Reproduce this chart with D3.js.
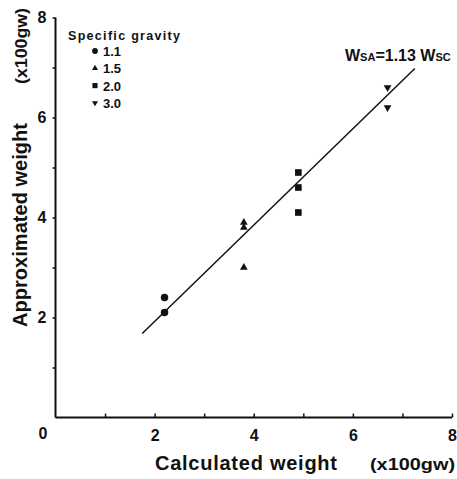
<!DOCTYPE html>
<html><head><meta charset="utf-8">
<script src="https://cdn.jsdelivr.net/npm/d3@7"></script>
<style>body{margin:0;background:#fff}svg{display:block}text{font-family:"Liberation Sans",Arial,sans-serif;font-weight:bold;fill:#111}</style>
</head><body>
<script>
// Data
const gravities = ["1.1", "1.5", "2.0", "3.0"];
const calcWeight = [2.2, 2.2, 3.8, 3.8, 3.8, 4.9, 4.9, 4.9, 6.7, 6.7];
const approxWeight = [2.4, 2.1, 3.9, 3.8, 3.0, 4.9, 4.6, 4.1, 6.6, 6.2];
const pointGravity = ["1.1", "1.1", "1.5", "1.5", "1.5", "2.0", "2.0", "2.0", "3.0", "3.0"];
const fitX = [1.75, 7.25];
const fitY = [1.68, 6.98];
const tickValues = [1, 2, 3, 4, 5, 6, 7, 8];
const tickLabels = ["", "2", "", "4", "", "6", "", "8"];

const W = 457, H = 479;
const svg = d3.select("body").append("svg").attr("width", W).attr("height", H);
const x = d3.scaleLinear().domain([0, 8]).range([55.5, 452]);
const y = d3.scaleLinear().domain([0, 8]).range([417.5, 17.5]);

// axes
const xAxis = d3.axisBottom(x).tickValues(tickValues).tickSize(-4).tickPadding(10)
  .tickFormat((d, i) => tickLabels[i]);
const gx = svg.append("g").attr("transform", `translate(0,${y(0)})`).call(xAxis);
gx.select(".domain").attr("stroke", "#111").attr("stroke-width", 2).attr("d", `M${x(0)},0H${x(8)}`);
gx.selectAll(".tick line").attr("stroke", "#111").attr("stroke-width", 1.5);
gx.selectAll(".tick text").attr("font-size", 16).attr("font-family", "Liberation Sans, Arial, sans-serif").attr("font-weight", "bold").attr("fill", "#111").attr("dy", "0.85em");

const yAxis = d3.axisLeft(y).tickValues(tickValues).tickSize(3).tickPadding(6)
  .tickFormat((d, i) => tickLabels[i]);
const gy = svg.append("g").attr("transform", `translate(${x(0)},0)`).call(yAxis);
gy.select(".domain").attr("stroke", "#111").attr("stroke-width", 2).attr("d", `M0,${y(8)}V${y(0)}`);
gy.selectAll(".tick line").attr("stroke", "#111").attr("stroke-width", 1.5);
gy.selectAll(".tick text").attr("font-size", 16).attr("font-family", "Liberation Sans, Arial, sans-serif").attr("font-weight", "bold").attr("fill", "#111");

// corner zero
svg.append("text").attr("x", 43).attr("y", 439).attr("text-anchor", "middle").attr("font-size", 16).text("0");

// axis titles
svg.append("text").attr("x", 155).attr("y", 470).attr("font-size", 20)
  .attr("textLength", 182).attr("lengthAdjust", "spacing").text("Calculated weight");
svg.append("text").attr("x", 370).attr("y", 470).attr("font-size", 17)
  .attr("textLength", 85).attr("lengthAdjust", "spacingAndGlyphs").text("(x100gw)");

const yt = svg.append("g").attr("transform", "translate(27,0) rotate(-90)");
yt.append("text").attr("x", -327).attr("y", 0).attr("font-size", 20)
  .attr("textLength", 204).attr("lengthAdjust", "spacing").text("Approximated weight");
yt.append("text").attr("x", -84).attr("y", 0).attr("font-size", 17)
  .attr("textLength", 76).attr("lengthAdjust", "spacingAndGlyphs").text("(x100gw)");

// fit line
svg.append("line").attr("x1", x(fitX[0])).attr("y1", y(fitY[0])).attr("x2", x(fitX[1])).attr("y2", y(fitY[1]))
  .attr("stroke", "#111").attr("stroke-width", 1.5);

// symbols
const symType = {"1.1": d3.symbolCircle, "1.5": d3.symbolTriangle, "2.0": d3.symbolSquare, "3.0": d3.symbolTriangle};
const symSize = {"1.1": 44, "1.5": 26, "2.0": 44, "3.0": 26};
const symRot = {"1.1": 0, "1.5": 0, "2.0": 0, "3.0": 180};

svg.append("g").selectAll("path").data(calcWeight).join("path")
  .attr("d", (d, i) => d3.symbol(symType[pointGravity[i]], symSize[pointGravity[i]])())
  .attr("transform", (d, i) => `translate(${x(d)},${y(approxWeight[i])}) rotate(${symRot[pointGravity[i]]})`)
  .attr("fill", "#111");

// formula label
const ft = svg.append("text").attr("x", 345).attr("y", 61).attr("font-size", 16);
ft.append("tspan").text("W");
ft.append("tspan").attr("font-size", 11).text("SA");
ft.append("tspan").text("=1.13 W");
ft.append("tspan").attr("font-size", 11).text("SC");

// legend
svg.append("text").attr("x", 68).attr("y", 40).attr("font-size", 12.5)
  .attr("textLength", 112).attr("lengthAdjust", "spacing").text("Specific gravity");
const lg = svg.append("g").selectAll("g").data(gravities).join("g")
  .attr("transform", (d, i) => `translate(95,${51 + i * 17.3})`);
lg.append("path").attr("d", d => d3.symbol(symType[d], symSize[d] * 0.6)())
  .attr("transform", d => `rotate(${symRot[d]})`).attr("fill", "#111");
lg.append("text").attr("x", 8).attr("y", 5).attr("font-size", 13).text(d => d);
</script>
</body></html>
